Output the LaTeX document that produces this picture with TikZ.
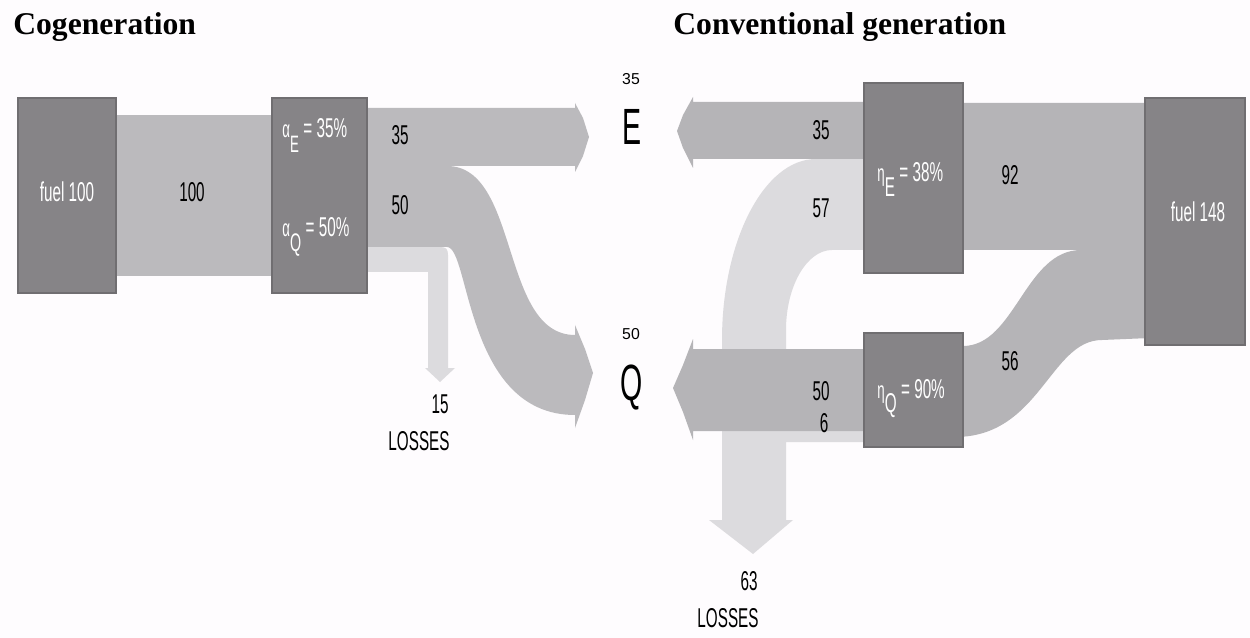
\documentclass[tikz,border=0pt]{standalone}
\usepackage{fontspec}
\setmainfont{Liberation Serif}
\newfontfamily\nar[FakeStretch=0.56]{Liberation Sans}
\newfontfamily\plainsans{Liberation Sans}
\definecolor{bgc}{RGB}{254,252,254}
\definecolor{bandL}{RGB}{187,186,189}
\definecolor{bandR}{RGB}{181,180,183}
\definecolor{lightb}{RGB}{220,219,222}
\definecolor{boxc}{RGB}{134,132,135}
\definecolor{boxedge}{RGB}{112,110,113}
\tikzset{
  boxstyle/.style={fill=boxc, draw=boxedge, line width=0.6pt},
  lbl/.style={font=\nar\fontsize{15.5}{16}\selectfont, inner sep=0pt, anchor=base},
  wlbl/.style={lbl, text=white},
  biglbl/.style={font=\nar\fontsize{29}{30}\selectfont, inner sep=0pt, anchor=base},
  smalllbl/.style={font=\plainsans\fontsize{9}{9}\selectfont, inner sep=0pt, anchor=base},
  titlelbl/.style={font=\bfseries\fontsize{18}{18}\selectfont, inner sep=0pt, anchor=base west}
}
% #1 greek letter, #2 subscript, #3 subscript size
\newcommand{\greekpart}[3]{{\fontsize{13.5}{14}\selectfont #1}\raisebox{-8.5pt}{\fontsize{#3}{#3}\selectfont #2}}
\begin{document}
\begin{tikzpicture}[x=0.02cm,y=-0.02cm]
\fill[bgc] (0,0) rectangle (1250,638);
\useasboundingbox (0,0) rectangle (1250,638);

% ---------------- Cogeneration ----------------
% losses 15
\fill[lightb] (360,247) -- (440,247) .. controls (446,247) and (448,249) .. (448,255)
  -- (448,368) -- (455,368) -- (440,382) -- (425,368) -- (428,368) -- (428,272) -- (360,272) -- cycle;
% Q band 50
\fill[bandL] (360,166) -- (447,166) .. controls (520,166) and (500,335) .. (575,335)
  -- (575,325) -- (585,349) -- (593,373) -- (585,400) -- (575,428) -- (575,415)
  .. controls (465,415) and (470,247) .. (447,247) -- (360,247) -- cycle;
% E band 35
\fill[bandL] (360,108) -- (575,108) -- (575,103) -- (583,118) -- (589,137) -- (583,156)
  -- (575,172) -- (575,166) -- (360,166) -- cycle;
% fuel band 100
\fill[bandL] (110,115) rectangle (280,276);
% boxes
\draw[boxstyle] (18,98) rectangle (116,293);
\draw[boxstyle] (272,98) rectangle (367,293);

% ---------------- Conventional generation ----------------
% losses 57 + 6 = 63
\fill[lightb] (870,159) -- (816,159) .. controls (764,159) and (722,241) .. (722,340)
  -- (722,520) -- (709,520) -- (753,554) -- (793,520) -- (786,520) -- (786,442)
  -- (870,442) -- (870,431) -- (786,431) -- (786,330)
  .. controls (786,286) and (807,250) .. (832,250) -- (870,250) -- cycle;
% Q band 50
\fill[bandR] (870,349) -- (693,349) -- (693,339) -- (683,365) -- (673,388) -- (683,412)
  -- (693,440) -- (693,431) -- (870,431) -- cycle;
% E band 35
\fill[bandR] (870,102) -- (693,102) -- (693,97) -- (683,115) -- (677,131) -- (683,148)
  -- (693,168) -- (693,159) -- (870,159) -- cycle;
% fuel band 148 -> 92 + 56
\fill[bandR] (955,103) -- (1150,103) -- (1150,338) -- (1102,340)
  .. controls (1050,340) and (1040,437) .. (955,437) -- (955,346) -- (963,346)
  .. controls (1015,346) and (1025,250) .. (1081,250) -- (955,250) -- cycle;
% boxes
\draw[boxstyle] (864,83) rectangle (963,273);
\draw[boxstyle] (864,333) rectangle (963,447);
\draw[boxstyle] (1145,98) rectangle (1245,345);

% ---------------- texts ----------------
\node[titlelbl] (t1) at (13,35) {Cogeneration};
\node[titlelbl] (t2) at (673,35) {Conventional generation};

\node[wlbl] (f100) at (67,202) {fuel 100};
\node[lbl] (n100) at (192,202) {100};
\node[wlbl, anchor=base west] (aE) at (282,138) {\greekpart{α}{E}{13.5}\,= 35\%};
\node[wlbl, anchor=base west] (aQ) at (282,237) {\greekpart{α}{Q}{14.5}\,= 50\%};
\node[lbl] (l35) at (400,145) {35};
\node[lbl] (l50) at (400,215) {50};
\node[lbl] (l15) at (440,413) {15};
\node[lbl] (lloss) at (419,450) {LOSSES};

\node[smalllbl] (s35) at (631,85) {35};
\node[biglbl] (E) at (632,145) {E};
\node[smalllbl] (s50) at (631,339) {50};
\node[biglbl] (Q) at (632,400) {Q};

\node[lbl] (r35) at (821,140) {35};
\node[lbl] (r57) at (821,218) {57};
\node[lbl] (r50) at (821,400) {50};
\node[lbl] (r6) at (824,432) {6};
\node[wlbl, anchor=base west] (eE) at (877,182) {\greekpart{η}{E}{15.5}\,= 38\%};
\node[wlbl, anchor=base west] (eQ) at (877,398) {\greekpart{η}{Q}{15.5}\,= 90\%};
\node[lbl] (r92) at (1010,185) {92};
\node[lbl] (r56) at (1010,370) {56};
\node[wlbl] (f148) at (1198,222) {fuel 148};
\node[lbl] (r63) at (749,590) {63};
\node[lbl] (rloss) at (728,627) {LOSSES};
\end{tikzpicture}
\end{document}
